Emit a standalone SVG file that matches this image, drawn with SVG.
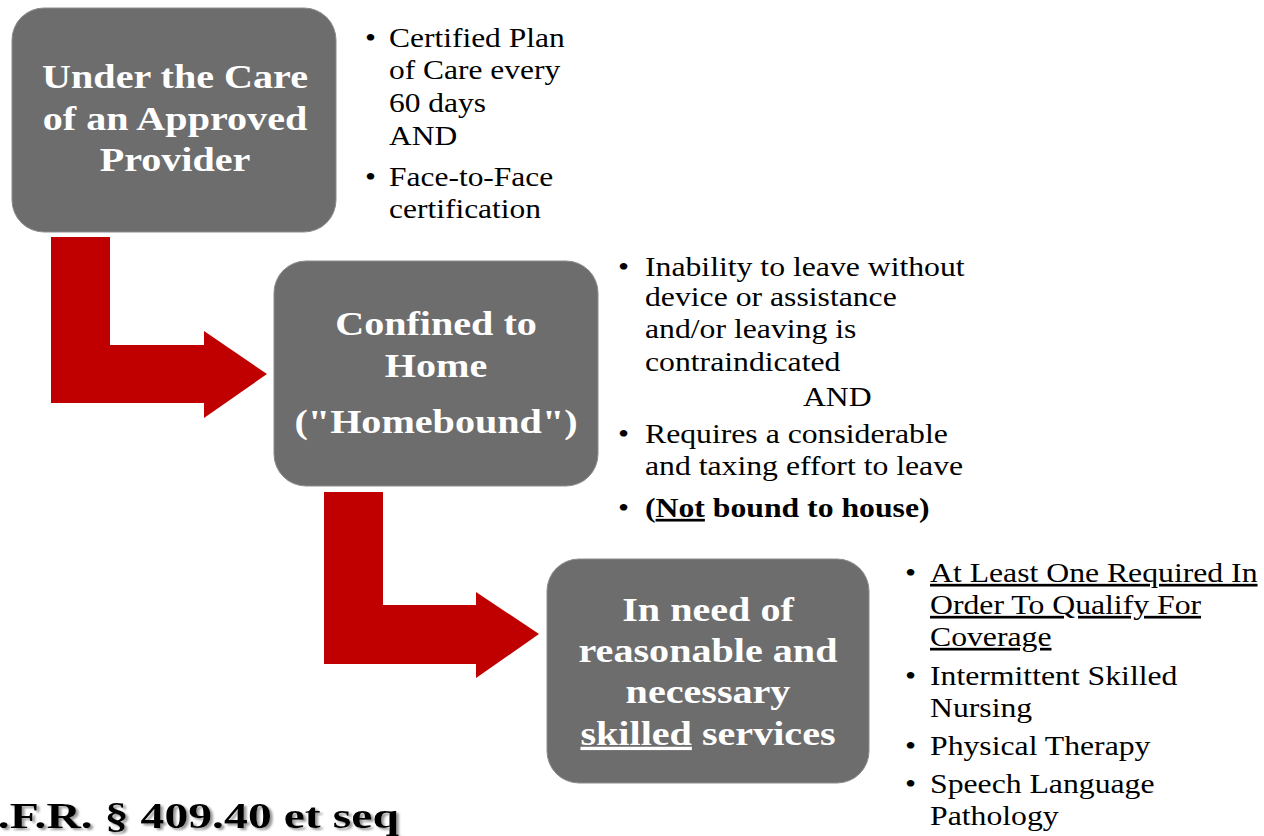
<svg xmlns="http://www.w3.org/2000/svg" width="1264" height="836" viewBox="0 0 1264 836" font-family="'Liberation Serif', 'Times New Roman', 'DejaVu Serif', serif">
<defs>
<style>
.box{fill:#6d6d6d;stroke:#8c8c8c;stroke-width:1}
.arrow{fill:#c00000}
.title{font-weight:bold;font-size:33px;fill:#ffffff;text-anchor:middle}
.bul{font-size:27px;fill:#000000}
.cite{font-weight:bold;font-size:36px;fill:#000000;text-anchor:end}
</style>
<filter id="shadow" x="-5%" y="-20%" width="110%" height="140%">
<feDropShadow dx="2" dy="2" stdDeviation="1" flood-color="#7f7f7f" flood-opacity="0.8"/>
</filter>
</defs>
<rect width="1264" height="836" fill="#ffffff"/>

<g id="connectors">
<polygon class="arrow" points="51,237 110,237 110,345 204,345 204,331 267,374 204,418 204,403 51,403"/>
<polygon class="arrow" points="324,492 383,492 383,605 476,605 476,592 539,634 476,678 476,664 324,664"/>
</g>

<g id="node-provider">
<rect class="box" x="12" y="8" width="324" height="224" rx="32" ry="32"/>
<g transform="translate(175,0) scale(1.216,1)">
<text class="title" x="0" y="88">Under the Care</text>
<text class="title" x="0" y="130">of an Approved</text>
<text class="title" x="0" y="171">Provider</text>
</g>
</g>

<g id="node-homebound">
<rect class="box" x="274" y="261" width="324" height="225" rx="32" ry="32"/>
<g transform="translate(436,0) scale(1.216,1)">
<text class="title" x="0" y="335">Confined to</text>
<text class="title" x="0" y="377">Home</text>
<text class="title" x="0" y="433">("Homebound")</text>
</g>
</g>

<g id="node-skilled">
<rect class="box" x="547" y="559" width="322" height="224" rx="32" ry="32"/>
<g transform="translate(708,0) scale(1.216,1)">
<text class="title" x="0" y="621">In need of</text>
<text class="title" x="0" y="662">reasonable and</text>
<text class="title" x="0" y="703">necessary</text>
<text class="title" x="0" y="745"><tspan text-decoration="underline">skilled</tspan> services</text>
</g>
</g>

<g id="notes-provider" transform="translate(365,0) scale(1.166,1)">
<text class="bul" x="0" y="47">•</text>
<text class="bul" x="20.6" y="47">Certified Plan</text>
<text class="bul" x="20.6" y="79.5">of Care every</text>
<text class="bul" x="20.6" y="112">60 days</text>
<text class="bul" x="20.6" y="145">AND</text>
<text class="bul" x="0" y="186">•</text>
<text class="bul" x="20.6" y="186">Face-to-Face</text>
<text class="bul" x="20.6" y="218">certification</text>
</g>

<g id="notes-homebound" transform="translate(618,0) scale(1.175,1)">
<text class="bul" x="0" y="276">•</text>
<text class="bul" x="23" y="276">Inability to leave without</text>
<text class="bul" x="23" y="306">device or assistance</text>
<text class="bul" x="23" y="338">and/or leaving is</text>
<text class="bul" x="23" y="371">contraindicated</text>
<text class="bul" x="157.4" y="406">AND</text>
<text class="bul" x="0" y="443">•</text>
<text class="bul" x="23" y="443">Requires a considerable</text>
<text class="bul" x="23" y="475">and taxing effort to leave</text>
<text class="bul" x="0" y="517">•</text>
<text class="bul" x="23" y="517" font-weight="bold">(<tspan text-decoration="underline">Not</tspan> bound to house)</text>
</g>

<g id="notes-skilled" transform="translate(905,0) scale(1.175,1)">
<text class="bul" x="0" y="582">•</text>
<text class="bul" x="21.3" y="582" text-decoration="underline">At Least One Required In</text>
<text class="bul" x="21.3" y="614" text-decoration="underline">Order To Qualify For</text>
<text class="bul" x="21.3" y="646" text-decoration="underline">Coverage</text>
<text class="bul" x="0" y="685">•</text>
<text class="bul" x="21.3" y="685">Intermittent Skilled</text>
<text class="bul" x="21.3" y="717">Nursing</text>
<text class="bul" x="0" y="755">•</text>
<text class="bul" x="21.3" y="755">Physical Therapy</text>
<text class="bul" x="0" y="793">•</text>
<text class="bul" x="21.3" y="793">Speech Language</text>
<text class="bul" x="21.3" y="825">Pathology</text>
</g>

<g id="citation" transform="translate(399,0) scale(1.326,1)">
<text class="cite" x="0" y="828" filter="url(#shadow)">.F.R. § 409.40 et seq</text>
</g>
</svg>
